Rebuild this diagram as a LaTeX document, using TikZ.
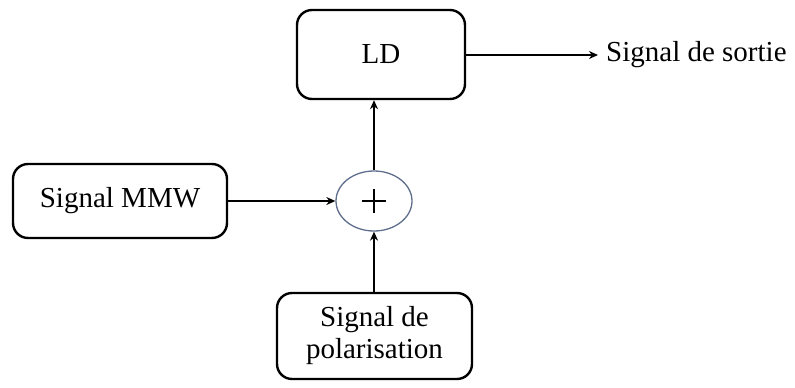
\documentclass[tikz,border=0pt]{standalone}
\usepackage{fontspec}
\setmainfont{Liberation Serif}
\usetikzlibrary{arrows.meta,shapes.geometric}
\begin{document}
\begin{tikzpicture}[x=1pt,y=-1pt,
  blk/.style={draw=black,line width=2.4pt,rounded corners=15pt,fill=white,inner sep=0pt,align=center,font=\fontsize{29}{32}\selectfont},
  sumnode/.style={draw={rgb,255:red,95;green,110;blue,140},line width=1.3pt,ellipse,inner sep=0pt,minimum width=76pt,minimum height=60pt},
  conn/.style={line width=2.2pt,-{Stealth[length=9pt,width=8pt]}},
  lbl/.style={font=\fontsize{29}{32}\selectfont,inner sep=0pt,anchor=west}]
\useasboundingbox (0,0) rectangle (795,388);
\node[blk,minimum width=168pt,minimum height=89pt] (ld) at (381,54.5) {LD};
\node[blk,minimum width=214pt,minimum height=74pt] (mmw) at (120,201) {Signal MMW};
\node[blk,minimum width=195pt,minimum height=86pt] (pol) at (374.5,336) {Signal de\\polarisation};
\node[sumnode] (sum) at (374,201) {};
\draw[line width=2pt] (sum.center) ++(-12,0) -- ++(24,0);
\draw[line width=2pt] (sum.center) ++(0,-12) -- ++(0,24);
\node[lbl] (out) at (606,55) {Signal de sortie};
\draw[conn,shorten >=8pt] (ld.east |- 0,55) -- (out.west);
\draw[conn] (mmw.east) -- (sum.west);
\draw[conn] (pol.north -| sum.south) -- (sum.south);
\draw[conn] (sum.north) -- (ld.south -| sum.north);
\end{tikzpicture}
\end{document}
